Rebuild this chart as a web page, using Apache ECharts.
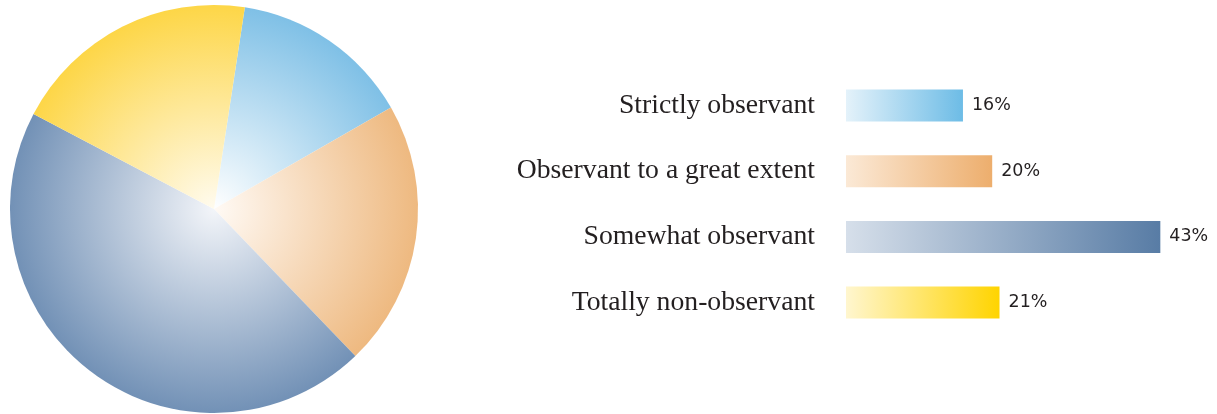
<!DOCTYPE html>
<html>
<head>
<meta charset="utf-8">
<script src="https://cdn.jsdelivr.net/npm/echarts@6/dist/echarts.min.js"></script>
<style>html,body{margin:0;padding:0;background:#fff}#c{width:1217px;height:414px}</style>
</head>
<body>
<div id="c"></div>
<script>
var categories = ['Strictly observant', 'Observant to a great extent', 'Somewhat observant', 'Totally non-observant'];
var barValues = [16, 20, 43, 21];
var pieValues = [14.3, 21.1, 44.9, 19.7];
var valueLabels = ['16%', '20%', '43%', '21%'];

var pieEdge = ['#7fc0e6', '#eeb980', '#7291b6', '#fdd647'];
var pieCenter = ['#ffffff', '#fffaf5', '#f3f5f9', '#fffbef'];
var barLeft = ['#e4f2fa', '#fbe9d6', '#d6dfea', '#fff6cf'];
var barRight = ['#6dbce6', '#edae6d', '#587ca5', '#ffd400'];

var cx = 214, cy = 209, R = 204;

var chart = echarts.init(document.getElementById('c'), null, {renderer: 'canvas'});
chart.setOption({
  animation: false,
  grid: {left: 846, width: 365.5, top: 72.7, height: 262.7},
  xAxis: {type: 'value', min: 0, max: 50, show: false},
  yAxis: {
    type: 'category', data: categories, inverse: true,
    axisLine: {show: false}, axisTick: {show: false}, splitLine: {show: false},
    axisLabel: {margin: 31, fontFamily: 'Liberation Serif', fontSize: 27.7, color: '#231f20'}
  },
  series: [
    {
      type: 'pie', center: [cx, cy], radius: R, startAngle: 81.3, clockwise: true,
      label: {show: false}, labelLine: {show: false}, silent: true,
      itemStyle: {borderWidth: 0},
      data: pieValues.map(function (v, i) {
        return {
          value: v, name: categories[i],
          itemStyle: {
            color: {type: 'radial', x: cx, y: cy, r: R, global: true,
              colorStops: [{offset: 0, color: pieCenter[i]}, {offset: 1, color: pieEdge[i]}]}
          }
        };
      })
    },
    {
      type: 'bar', barWidth: 32, silent: true,
      data: barValues.map(function (v, i) {
        return {
          value: v,
          itemStyle: {
            color: {type: 'linear', x: 0, y: 0, x2: 1, y2: 0,
              colorStops: [{offset: 0, color: barLeft[i]}, {offset: 1, color: barRight[i]}]}
          },
          label: {formatter: valueLabels[i]}
        };
      }),
      label: {show: true, position: 'right', distance: 9, fontFamily: 'DejaVu Sans', fontSize: 17.5, color: '#231f20'}
    }
  ]
});
</script>
</body>
</html>
